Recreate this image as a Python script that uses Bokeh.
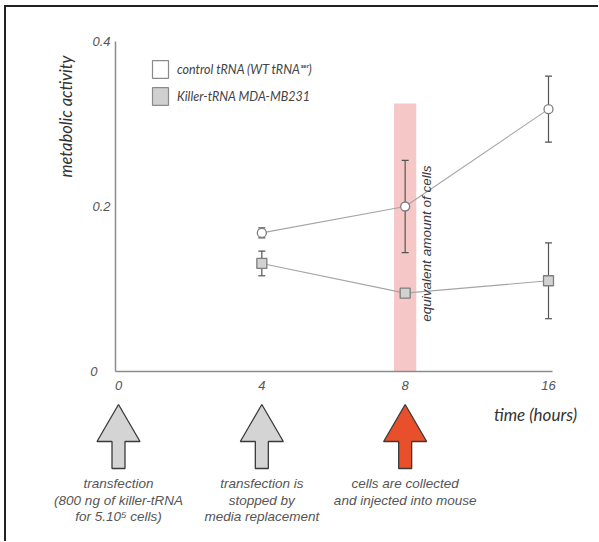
import math
from bokeh.plotting import figure
from bokeh.layouts import column
from bokeh.models import (ColumnDataSource, Range1d, FixedTicker, Whisker, TeeHead,
                          Label, Legend, LegendItem, LinearAxis)
from bokeh.core.properties import value
from bokeh.embed import file_html
from bokeh.resources import INLINE

# ---------------- data ----------------
tick_hours = [0, 4, 8, 16]
tick_labels = ["0", "4", "8", "16"]
y_ticks = [0, 0.2, 0.4]
y_tick_labels = ["0\u2003", "0.2", "0.4"]

hours = [4, 8, 16]
control_mean = [0.168, 0.200, 0.318]
control_err = [0.006, 0.056, 0.040]
killer_mean = [0.131, 0.095, 0.110]
killer_err = [0.015, 0.004, 0.046]

series_names = ["control tRNA (WT tRNA\u02e2\u1d49\u02b3)", "Killer-tRNA MDA-MB231"]

band_hour = 8
band_top = 0.325
band_label = "equivalent amount of cells"

event_hours = [0, 4, 8]
event_texts = [
    ["transfection", "(800 ng of killer-tRNA", "for 5.10\u2075 cells)"],
    ["transfection is", "stopped by", "media replacement"],
    ["cells are collected", "and injected into mouse"],
]

x_title = "time (hours)"
y_title = "metabolic activity"

# ---------------- geometry (page pixels) ----------------
def xpos(h):
    return tick_hours.index(h)

PX = 430 / 3.0        # pixels per tick step
PY = 825.0            # pixels per unit of activity
X0_PAGE, Y0_PAGE = 118, 371   # page position of the first tick / zero line
MX, MY = 4, 5                 # frame border offset on the page
CX, CY = MX + 2, MY + 2       # canvas origin on the page
W, H = 592, 534

def dx(px):   # horizontal pixel distance -> x data units
    return px / PX

def dy(py):   # vertical pixel distance -> y data units
    return py / PY

xs0 = -(X0_PAGE - CX) / PX
ys1 = (Y0_PAGE - CY) / PY
p = figure(width=W, height=H,
           x_range=Range1d(xs0, xs0 + W / PX), y_range=Range1d(ys1 - H / PY, ys1),
           output_backend="svg", toolbar_location=None,
           x_axis_location=None, y_axis_location=None,
           min_border_left=0, min_border_right=0, min_border_top=0, min_border_bottom=0)
p.outline_line_color = None
p.grid.visible = False
p.background_fill_color = "white"

AX = "#8c8c8c"
xaxis = LinearAxis(fixed_location=0, bounds=(-dx(3), len(tick_hours) - 1 + dx(4)))
yaxis = LinearAxis(fixed_location=-dx(3), bounds=(0, max(y_ticks)))
for ax in (xaxis, yaxis):
    ax.axis_line_color = AX
    ax.axis_line_width = 1.5
    ax.major_tick_line_color = None
    ax.minor_tick_line_color = None
    ax.major_tick_out = 0
    ax.major_tick_in = 0
    ax.major_label_text_font = "Liberation Sans"
    ax.major_label_text_font_style = "italic"
    ax.major_label_text_font_size = "13px"
    ax.major_label_text_color = "#555555"

xaxis.ticker = FixedTicker(ticks=[xpos(h) for h in tick_hours])
xaxis.major_label_overrides = {xpos(h): l for h, l in zip(tick_hours, tick_labels)}
xaxis.major_label_standoff = 9
yaxis.ticker = FixedTicker(ticks=y_ticks)
yaxis.major_label_overrides = {v: l for v, l in zip(y_ticks, y_tick_labels)}
yaxis.major_label_standoff = 5
p.add_layout(xaxis, "below")
p.add_layout(yaxis, "left")

# band
p.vbar(x=[xpos(band_hour)], width=0.155, top=[band_top], bottom=0,
       fill_color="#f5bdbd", fill_alpha=0.85, line_color=None, level="image")

def add_series(mean, err, marker, size, fill):
    xs = [xpos(h) for h in hours]
    src = ColumnDataSource(dict(x=xs, y=mean,
                                upper=[m + e for m, e in zip(mean, err)],
                                lower=[m - e for m, e in zip(mean, err)]))
    wk = Whisker(base="x", upper="upper", lower="lower", source=src,
                 line_color="#555555", line_width=1.2, level="underlay",
                 upper_head=TeeHead(size=7, line_color="#555555", line_width=1.2),
                 lower_head=TeeHead(size=7, line_color="#555555", line_width=1.2))
    p.add_layout(wk)
    p.line("x", "y", source=src, line_color="#a5a5a5", line_width=1.1)
    p.scatter("x", "y", source=src, marker=marker, size=size, fill_color=fill,
              line_color="#7e7e7e", line_width=1.3)

add_series(control_mean, control_err, "circle", 9, "white")
add_series(killer_mean, killer_err, "square", 10, "#d2d2d2")

# legend (swatch renderers with no visible geometry)
nan = float("nan")
r1 = p.quad(left=[nan], right=[nan], top=[nan], bottom=[nan], fill_color="white",
            line_color="#8a8a8a", line_width=1.2)
r2 = p.quad(left=[nan], right=[nan], top=[nan], bottom=[nan], fill_color="#d0d0d0",
            line_color="#8a8a8a", line_width=1.2)
leg = Legend(items=[LegendItem(label=series_names[0], renderers=[r1]),
                    LegendItem(label=series_names[1], renderers=[r2])],
             location=(150 - CX, H - (107 - CY)), padding=0, margin=0, spacing=5,
             glyph_width=20, glyph_height=22, label_height=22, label_standoff=7,
             background_fill_alpha=0, border_line_color=None,
             label_text_font="Lato", label_text_font_style="italic",
             label_text_font_size="12.5px", label_text_color="#444444")
p.add_layout(leg)

p.add_layout(Label(x=xpos(band_hour), x_offset=21, y=0.155, text=band_label,
                   angle=math.pi / 2, text_align="center", text_baseline="middle",
                   text_font="Liberation Sans", text_font_style="italic",
                   text_font_size="13.5px", text_color="#3a3a3a"))

p.add_layout(Label(x=-dx(X0_PAGE - 65), y=dy(Y0_PAGE - 116), text=y_title,
                   angle=math.pi / 2, text_align="center", text_baseline="middle",
                   text_font="Lato", text_font_style="italic",
                   text_font_size="16.5px", text_color="#333333"))

p.add_layout(Label(x=len(tick_hours) - 1 - dx(13), y=-dy(414 - Y0_PAGE), text=x_title,
                   text_align="center", text_baseline="middle",
                   text_font="Lato", text_font_style="italic",
                   text_font_size="17px", text_color="#333333"))

# ---------------- event arrows ----------------
hw, sw = dx(21.5), dx(6.5)
tip, base, bot = -dy(404 - Y0_PAGE), -dy(441 - Y0_PAGE), -dy(468 - Y0_PAGE)
xs_list, ys_list = [], []
for h in event_hours:
    c = xpos(h)
    xs_list.append([c, c + hw, c + sw, c + sw, c - sw, c - sw, c - hw])
    ys_list.append([tip, base, base, bot, bot, base, base])
arrow_colors = ["#d4d4d4", "#d4d4d4", "#e8502b"]
p.patches(xs_list, ys_list, fill_color=arrow_colors, line_color="#3a3a3a", line_width=1.3)

tx, ty, tt = [], [], []
for h, lines in zip(event_hours, event_texts):
    for j, line in enumerate(lines):
        tx.append(xpos(h)); ty.append(-dy(483 - Y0_PAGE + 16.5 * j)); tt.append(line)
p.text(tx, ty, text=tt, text_align="center", text_baseline="middle",
       text_font=value("Liberation Sans"), text_font_style="italic",
       text_font_size="13.5px", text_color="#555555")

lay = column(p, styles={"border-left": "2px solid #222", "border-top": "2px solid #222",
                        "margin-left": f"{MX}px", "margin-top": f"{MY}px"})

open("out.html", "w").write(file_html(lay, INLINE))
